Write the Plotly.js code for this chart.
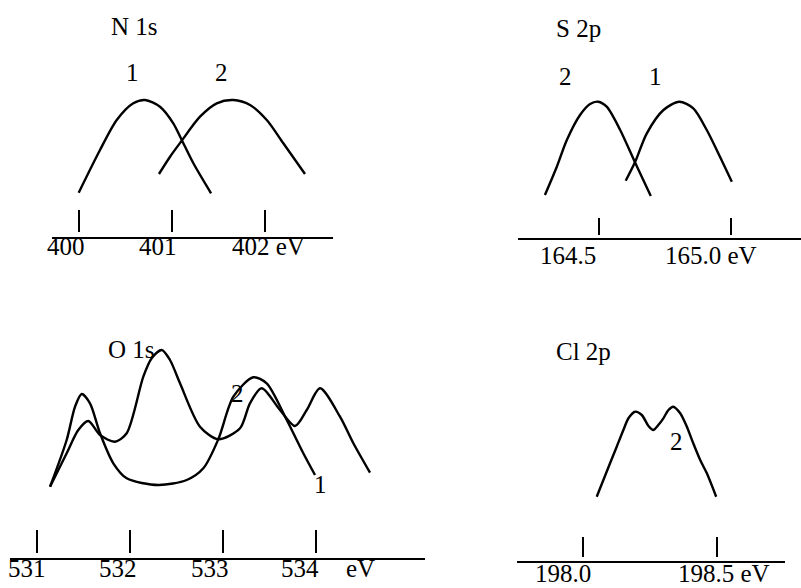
<!DOCTYPE html>
<html>
<head>
<meta charset="utf-8">
<script src="https://cdn.plot.ly/plotly-3.0.1.min.js"></script>
<style>html,body{margin:0;padding:0;background:#fff;}#chart{width:801px;height:588px;}</style>
</head>
<body>
<div id="chart"></div>
<script>
// ---- N 1s ----
const nTicks = [400, 401, 402];
const nTickLabels = ['400', '401', '402 eV'];
const n1X = [400.000, 400.229, 400.409, 400.587, 400.713, 400.874, 401.017, 401.108, 401.233, 401.423];
const n1Y = [45.0, 87.7, 117.7, 134.4, 137.7, 131.0, 114.4, 97.7, 74.4, 44.4];
const n2X = [400.863, 400.982, 401.100, 401.304, 401.484, 401.663, 401.842, 402.022, 402.200, 402.433];
const n2Y = [63.7, 81.0, 96.0, 121.0, 134.4, 137.7, 132.7, 117.7, 94.4, 63.7];

// ---- S 2p ----
const sTicks = [164.5, 165.0];
const sTickLabels = ['164.5', '165.0 eV'];
const s2X = [164.295, 164.340, 164.378, 164.428, 164.466, 164.497, 164.529, 164.580, 164.636, 164.696];
const s2Y = [44.0, 72.3, 99.0, 124.0, 135.0, 137.3, 132.3, 109.0, 76.7, 43.0];
const s1X = [164.601, 164.636, 164.681, 164.744, 164.804, 164.857, 164.908, 164.958, 165.003];
const s1Y = [58.3, 76.7, 105.7, 129.0, 137.3, 130.7, 109.0, 82.3, 57.3];

// ---- O 1s ----
const oTicks = [531, 532, 533, 534];
const oTickLabels = ['531', '532', '533', '534', 'eV'];
const o1X = [531.137, 531.316, 531.406, 531.478, 531.567, 531.675, 531.818, 531.962, 532.302, 532.608, 532.787, 532.948, 533.110, 533.325, 533.469, 533.685, 533.863, 533.989];
const o1Y = [72.6, 119.3, 152.6, 165.3, 156.0, 126.0, 96.0, 81.0, 74.3, 79.3, 91.0, 120.0, 162.6, 182.0, 176.0, 139.3, 106.0, 84.3];
const o2X = [531.137, 531.316, 531.441, 531.549, 531.675, 531.836, 531.962, 532.141, 532.231, 532.339, 532.428, 532.536, 532.751, 532.948, 533.182, 533.289, 533.415, 533.612, 533.774, 533.900, 534.043, 534.258, 534.402, 534.581];
const o2Y = [72.6, 106.0, 129.3, 138.3, 124.3, 117.6, 126.0, 182.6, 201.0, 209.3, 199.3, 176.0, 132.6, 120.0, 131.0, 156.0, 171.0, 149.3, 133.3, 149.3, 171.0, 142.6, 116.0, 86.6];

// ---- Cl 2p ----
const clTicks = [198.0, 198.5];
const clTickLabels = ['198.0', '198.5 eV'];
const cl2X = [198.050, 198.100, 198.125, 198.150, 198.169, 198.194, 198.219, 198.244, 198.262, 198.281, 198.300, 198.319, 198.337, 198.363, 198.388, 198.412, 198.438, 198.463, 198.498];
const cl2Y = [65.0, 98.4, 115.0, 131.7, 143.4, 150.0, 146.7, 135.7, 131.7, 136.7, 143.4, 151.7, 155.0, 148.4, 135.0, 118.4, 101.7, 88.4, 65.0];

const panelTitles = ['N 1s', 'S 2p', 'O 1s', 'Cl 2p'];

const W = 801, H = 588;
const FONT = {family: '"Liberation Serif"', size: 25, color: '#000'};
const px = v => v / W;
const py = v => 1 - v / H;

function curve(x, y, xa, ya) {
  return {type: 'scatter', mode: 'lines', x: x, y: y, xaxis: xa, yaxis: ya,
    line: {color: '#000', width: 2.4, shape: 'spline', smoothing: 0.8}, hoverinfo: 'skip', showlegend: false};
}

const data = [
  curve(n1X, n1Y, 'x', 'y'), curve(n2X, n2Y, 'x', 'y'),
  curve(s2X, s2Y, 'x2', 'y2'), curve(s1X, s1Y, 'x2', 'y2'),
  curve(o1X, o1Y, 'x3', 'y3'), curve(o2X, o2Y, 'x3', 'y3'),
  curve(cl2X, cl2Y, 'x4', 'y4')
];

function xax(domain, range, tickvals, posPx, len) {
  return {domain: domain, range: range, anchor: 'free', position: py(posPx),
    showline: false, showgrid: false, zeroline: false,
    ticks: 'inside', tickvals: tickvals, ticklen: len, tickwidth: 2, tickcolor: '#000',
    showticklabels: false, fixedrange: true};
}
function yax(domain, range, xname) {
  return {domain: domain, range: range, anchor: xname, showline: false, showgrid: false,
    zeroline: true, zerolinecolor: '#000', zerolinewidth: 2, ticks: '', showticklabels: false, fixedrange: true};
}

const layout = {
  width: W, height: H,
  margin: {l: 0, r: 0, t: 0, b: 0},
  paper_bgcolor: '#fff', plot_bgcolor: 'rgba(0,0,0,0)',
  showlegend: false,
  font: FONT,
  xaxis:  xax([px(52), px(333)], [399.713, 402.734], nTicks, 232, 22),
  yaxis:  yax([py(240.7), py(60)], [-3, 177.7], 'x'),
  xaxis2: xax([px(518), 1], [164.193, 165.265], sTicks, 235, 17),
  yaxis2: yax([py(242), py(60)], [-3, 179], 'x2'),
  xaxis3: xax([px(10), px(425)], [530.706, 535.173], oTicks, 553.3, 23),
  yaxis3: yax([py(562.3), py(300)], [-3, 259.3], 'x3'),
  xaxis4: xax([px(516.7), px(785)], [197.750, 198.756], clTicks, 556.7, 20),
  yaxis4: yax([py(564.7), py(300)], [-3, 261.7], 'x4'),
  annotations: []
};

function label(text, cx, cy) {
  layout.annotations.push({text: text, xref: 'paper', yref: 'paper', x: px(cx), y: py(cy),
    xanchor: 'center', yanchor: 'middle', showarrow: false, font: FONT});
}

// panel titles
label(panelTitles[0], 134, 27);
label(panelTitles[1], 578.5, 28);
label(panelTitles[2], 131.5, 349);
label(panelTitles[3], 583, 351);

// curve number labels
label('1', 132.7, 72); label('2', 221.7, 72);
label('2', 565.7, 76); label('1', 655, 76);
label('2', 237.3, 393); label('1', 320, 484);
label('2', 676.7, 442);

// tick labels
const nLabPos = [66, 158.3, 268.3];
nTickLabels.forEach((t, i) => label(t, nLabPos[i], 247));
const sLabPos = [567.5, 710.8];
sTickLabels.forEach((t, i) => label(t, sLabPos[i], 255));
const oLabPos = [26.7, 118.3, 210, 300, 360.8];
oTickLabels.forEach((t, i) => label(t, oLabPos[i], 568));
const clLabPos = [563.3, 724.2];
clTickLabels.forEach((t, i) => label(t, clLabPos[i], 573));

Plotly.newPlot('chart', data, layout, {staticPlot: true, displayModeBar: false});
</script>
</body>
</html>
